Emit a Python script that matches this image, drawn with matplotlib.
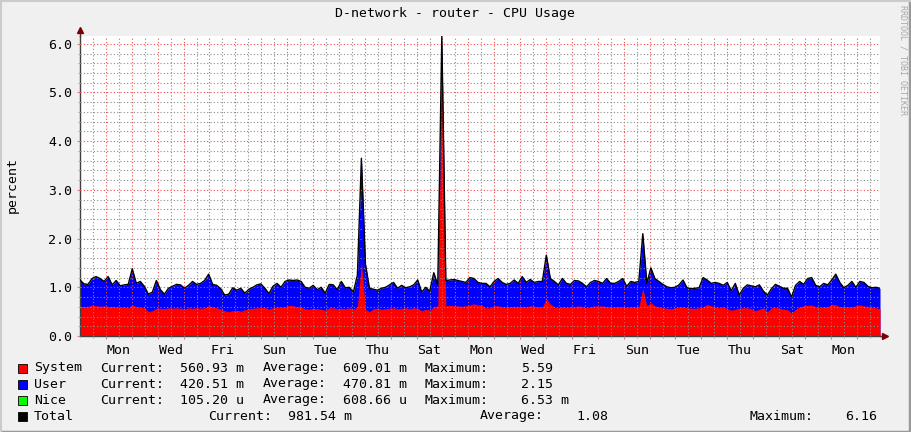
import numpy as np
import matplotlib.pyplot as plt
from matplotlib.patches import Rectangle
from matplotlib.lines import Line2D

# total (system + user + nice), one value per 4 px column
total = [
    1.15, 1.07, 1.06, 1.18, 1.22, 1.18, 1.12, 1.22, 1.05, 1.14,
    1.03, 1.05, 1.06, 1.38, 1.08, 1.12, 1.02, 0.86, 0.90, 1.14,
    0.95, 0.86, 0.98, 1.02, 1.06, 1.05, 0.98, 1.04, 1.12, 1.06,
    1.08, 1.14, 1.27, 1.06, 1.04, 0.97, 0.84, 0.86, 0.99, 0.94,
    0.98, 0.88, 0.96, 1.00, 1.05, 1.07, 0.98, 0.87, 1.02, 1.08,
    1.00, 1.12, 1.15, 1.14, 1.15, 1.12, 1.00, 0.98, 1.04, 0.95,
    1.00, 0.88, 1.06, 1.05, 0.95, 1.12, 0.99, 1.00, 0.90, 1.25,
    3.65, 1.48, 0.98, 0.96, 0.94, 0.98, 1.00, 1.05, 1.10, 0.98,
    1.04, 0.99, 1.01, 1.05, 1.15, 0.90, 1.00, 0.92, 1.30, 1.05,
    6.16, 1.14, 1.15, 1.16, 1.14, 1.12, 1.10, 1.20, 1.18, 1.10,
    1.08, 1.08, 1.01, 1.12, 1.18, 1.10, 1.06, 1.08, 1.15, 1.08,
    1.22, 1.10, 1.16, 1.10, 1.12, 1.12, 1.66, 1.18, 1.12, 1.05,
    1.18, 1.08, 1.06, 1.14, 1.13, 1.08, 1.01, 1.10, 1.14, 1.12,
    1.08, 1.18, 1.08, 1.08, 1.12, 1.18, 1.02, 1.12, 1.10, 1.12,
    2.10, 1.08, 1.40, 1.18, 1.12, 1.06, 1.01, 0.99, 1.00, 1.05,
    1.15, 0.99, 0.97, 0.98, 0.99, 1.20, 1.15, 1.08, 1.10, 1.08,
    1.04, 1.10, 0.93, 1.08, 0.84, 0.98, 1.05, 1.03, 1.01, 1.05,
    0.92, 0.84, 0.97, 1.06, 1.02, 0.98, 0.98, 0.80, 1.04, 1.12,
    1.06, 1.18, 1.20, 1.04, 1.01, 1.08, 1.05, 1.15, 1.27, 1.10,
    0.99, 1.04, 1.12, 1.00, 1.12, 1.10, 1.02, 0.99, 1.00, 0.98,
]

system = [
    0.62, 0.60, 0.61, 0.63, 0.62, 0.61, 0.62, 0.60, 0.61, 0.60,
    0.59, 0.60, 0.58, 0.64, 0.60, 0.59, 0.58, 0.50, 0.52, 0.57,
    0.57, 0.56, 0.58, 0.57, 0.58, 0.57, 0.56, 0.58, 0.57, 0.58,
    0.57, 0.58, 0.62, 0.60, 0.58, 0.55, 0.52, 0.50, 0.52, 0.53,
    0.51, 0.54, 0.56, 0.57, 0.58, 0.58, 0.59, 0.55, 0.58, 0.60,
    0.59, 0.60, 0.63, 0.62, 0.60, 0.60, 0.56, 0.55, 0.57, 0.56,
    0.55, 0.53, 0.58, 0.58, 0.56, 0.57, 0.56, 0.58, 0.55, 0.60,
    1.50, 0.55, 0.50, 0.56, 0.57, 0.55, 0.56, 0.57, 0.58, 0.56,
    0.57, 0.58, 0.56, 0.58, 0.57, 0.52, 0.55, 0.53, 0.60, 0.62,
    5.59, 0.62, 0.63, 0.62, 0.62, 0.61, 0.62, 0.64, 0.66, 0.64,
    0.63, 0.58, 0.58, 0.62, 0.62, 0.60, 0.60, 0.60, 0.61, 0.60,
    0.61, 0.60, 0.62, 0.61, 0.60, 0.60, 0.77, 0.66, 0.60, 0.58,
    0.60, 0.59, 0.60, 0.60, 0.62, 0.60, 0.58, 0.60, 0.62, 0.61,
    0.62, 0.60, 0.60, 0.60, 0.60, 0.60, 0.59, 0.60, 0.60, 0.60,
    0.98, 0.62, 0.68, 0.62, 0.60, 0.58, 0.57, 0.56, 0.58, 0.60,
    0.60, 0.58, 0.57, 0.57, 0.58, 0.60, 0.65, 0.62, 0.60, 0.58,
    0.60, 0.56, 0.53, 0.55, 0.57, 0.58, 0.58, 0.56, 0.52, 0.55,
    0.58, 0.50, 0.58, 0.59, 0.57, 0.55, 0.54, 0.47, 0.55, 0.60,
    0.62, 0.63, 0.64, 0.60, 0.59, 0.60, 0.60, 0.65, 0.64, 0.60,
    0.60, 0.60, 0.60, 0.62, 0.64, 0.62, 0.60, 0.60, 0.58, 0.56,
]

span_days = 30.9
day_labels = ['Mon', 'Wed', 'Fri', 'Sun', 'Tue', 'Thu', 'Sat', 'Mon',
              'Wed', 'Fri', 'Sun', 'Tue', 'Thu', 'Sat', 'Mon']

legend_rows = [
    ('System', '#FF0000', '560.93 m', '609.01 m', '5.59'),
    ('User', '#0000FF', '420.51 m', '470.81 m', '2.15'),
    ('Nice', '#00FF00', '105.20 u', '608.66 u', '6.53 m'),
]
total_row = ('981.54 m', '1.08', '6.16')

W, H = 911, 432
mono = 'DejaVu Sans Mono'
fs = 9.5

fig = plt.figure(figsize=(W / 100, H / 100), dpi=100)
fig.patch.set_facecolor('#F0F0F0')
ax = fig.add_axes([80 / W, 96 / H, 800 / W, 300 / H])
ax.set_facecolor('white')


def fp(x, y):
    return x / W, 1 - y / H


t = np.linspace(0, span_days, len(total))
ax.fill_between(t, 0, total, color='#0000FF', lw=0, zorder=1)
ax.fill_between(t, 0, system, color='#FF0000', lw=0, zorder=1.1)
ax.plot(t, total, color='black', lw=1.0, zorder=3)

ax.set_xlim(0, span_days)
ax.set_ylim(0, 6.16)

# grid: red every day / 1.0, grey every 12 h / 0.2
ax.set_xticks(np.arange(1, 31), labels=[''] * 30)
minor_x = np.arange(0.5, 31, 1.0)
minor_lab = [day_labels[(k - 1) // 2] if k % 2 == 1 else '' for k in range(len(minor_x))]
ax.set_xticks(minor_x, labels=minor_lab, minor=True)
ax.set_yticks(np.arange(0, 7), labels=[f'{v:.1f}' for v in range(7)])
ax.set_yticks(np.arange(0, 6.2, 0.2), minor=True)

ax.set_axisbelow(False)
ax.grid(which='major', color=(0.95, 0.3, 0.3, 0.32), linestyle=(0, (1, 2)), lw=0.8)
ax.grid(which='minor', color=(0.55, 0.55, 0.55, 0.22), linestyle=(0, (1, 2)), lw=0.8)

ax.tick_params(which='both', direction='out', labelsize=fs, labelfontfamily=mono)
ax.tick_params(which='major', length=2.5, color='#D08080', pad=3)
ax.tick_params(which='minor', length=1.5, color='#A0A0A0', pad=3)
ax.tick_params(axis='x', which='minor', pad=4)

for s in ('top', 'right'):
    ax.spines[s].set_visible(False)
for s in ('left', 'bottom'):
    ax.spines[s].set_color('#404040')
    ax.spines[s].set_linewidth(1.0)

# axis extensions and arrows
ax.plot([0, 0], [1, 1.02], transform=ax.transAxes, clip_on=False, color='#404040', lw=1)
ax.plot([0], [1.02], marker='^', ms=4.5, color='#7F0000', transform=ax.transAxes, clip_on=False)
ax.plot([1, 1.006], [0, 0], transform=ax.transAxes, clip_on=False, color='#404040', lw=1)
ax.plot([1.006], [0], marker='>', ms=4.5, color='#7F0000', transform=ax.transAxes, clip_on=False)

# texts
fig.text(*fp(455, 14), 'D-network - router - CPU Usage', ha='center', va='center',
         family=mono, fontsize=fs)
fig.text(*fp(12, 185), 'percent', rotation=90, ha='center', va='center',
         family=mono, fontsize=fs)
fig.text(*fp(903, 60), 'RRDTOOL / TOBI OETIKER', rotation=270, ha='center', va='center',
         family=mono, fontsize=6, color='#A8A8A8')

row_y = [368, 384, 400]
for (name, col, cur, avg, mx), y in zip(legend_rows, row_y):
    fig.add_artist(Rectangle(fp(18, y + 4.5), 9 / W, 9 / H, transform=fig.transFigure,
                             facecolor=col, edgecolor='black', lw=0.6))
    for x, s in [(34, name), (100.5, 'Current:'), (180.5, cur), (263, 'Average:'),
                 (343, avg), (424.5, 'Maximum:'), (521, mx)]:
        fig.text(*fp(x, y), s, ha='left', va='center', family=mono, fontsize=fs)

y = 416
fig.add_artist(Rectangle(fp(18, y + 4.5), 9 / W, 9 / H, transform=fig.transFigure,
                         facecolor='black', edgecolor='black', lw=0.6))
for x, s in [(34, 'Total'), (208, 'Current:'), (288, total_row[0]), (480, 'Average:'),
             (576, total_row[1]), (749.5, 'Maximum:'), (845.5, total_row[2])]:
    fig.text(*fp(x, y), s, ha='left', va='center', family=mono, fontsize=fs)

# frame shading
fig.add_artist(Line2D([0, 1], [0.5 / H, 0.5 / H], transform=fig.transFigure, color='#999999', lw=2.5))
fig.add_artist(Line2D([1 - 1 / W, 1 - 1 / W], [0, 1], transform=fig.transFigure, color='#999999', lw=2.5))
fig.add_artist(Line2D([0, 1], [1 - 0.5 / H, 1 - 0.5 / H], transform=fig.transFigure, color='#CBCBCB', lw=1.5))
fig.add_artist(Line2D([0.5 / W, 0.5 / W], [0, 1], transform=fig.transFigure, color='#CBCBCB', lw=1.5))

fig.savefig('out.png', dpi=100, facecolor=fig.get_facecolor())
